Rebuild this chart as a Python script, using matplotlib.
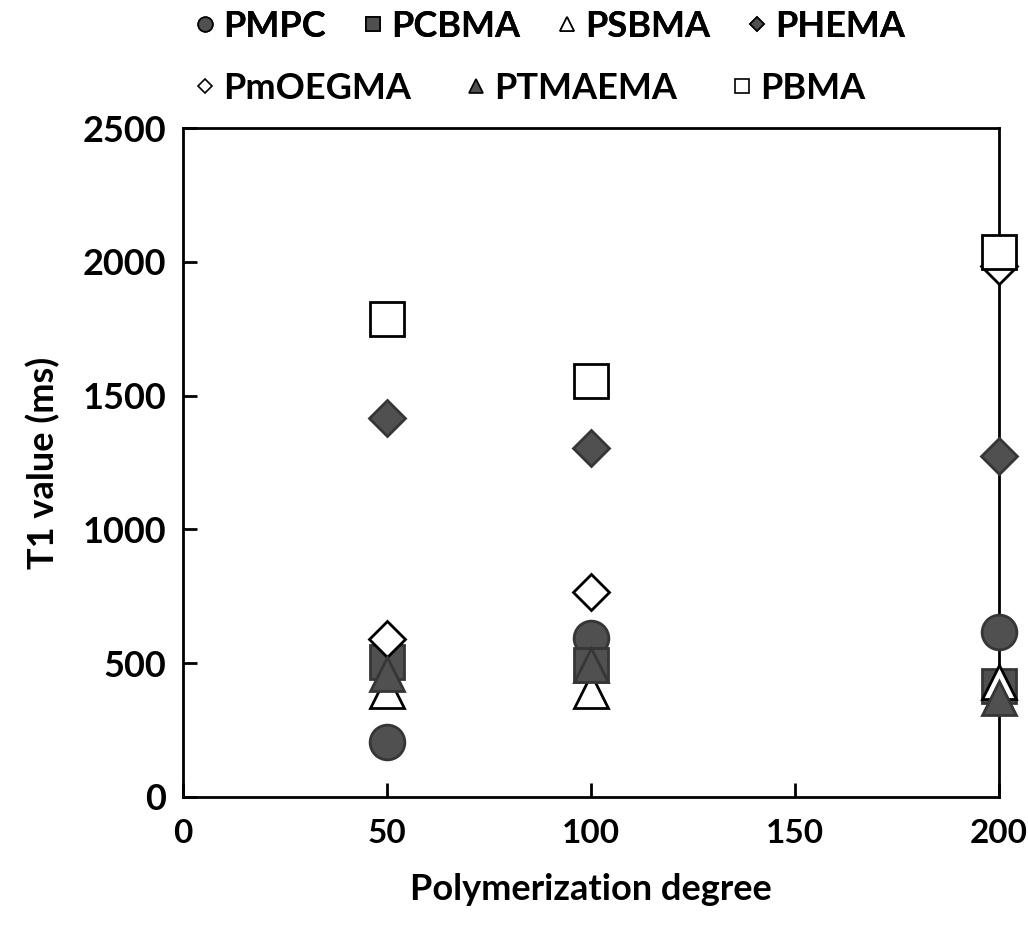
import matplotlib
matplotlib.use("Agg")
import matplotlib.pyplot as plt
from matplotlib.lines import Line2D

plt.rcParams['font.family'] = ['Lato', 'DejaVu Sans']
plt.rcParams['font.weight'] = 'bold'

# Data
degree = [50, 100, 200]
pmpc = [205, 595, 615]
pcbma = [505, 495, 415]
psbma = [395, 395, 430]
phema = [1415, 1305, 1275]
pmoegma = [590, 765, 1985]
ptmaema = [460, 495, 370]
pbma = [1785, 1555, 2035]

dark = '#505050'
dark_edge = '#363636'
series = [
    ('PMPC', pmpc, 'o', dark, 25),
    ('PCBMA', pcbma, 's', dark, 24),
    ('PSBMA', psbma, '^', 'white', 25),
    ('PHEMA', phema, 'D', dark, 18),
    ('PmOEGMA', pmoegma, 'D', 'white', 18),
    ('PTMAEMA', ptmaema, '^', dark, 25),
    ('PBMA', pbma, 's', 'white', 24),
]

fig = plt.figure(figsize=(10.28, 9.33), dpi=100)
ax = fig.add_axes([0.178, 0.1458, 0.794, 0.717])

handles = {}
for name, vals, mk, fc, ms in series:
    ec = 'black' if fc == 'white' else dark_edge
    ax.plot(degree, vals, linestyle='none', marker=mk, markersize=ms,
            markerfacecolor=fc, markeredgecolor=ec, markeredgewidth=2,
            clip_on=False, zorder=3)
    handles[name] = Line2D([], [], linestyle='none', marker=mk,
                           markersize=ms * 0.42, markerfacecolor=fc,
                           markeredgecolor='black', markeredgewidth=1.2)

ax.set_xlim(0, 200)
ax.set_ylim(0, 2500)
ax.set_xticks([0, 50, 100, 150, 200])
ax.set_yticks([0, 500, 1000, 1500, 2000, 2500])
ax.tick_params(direction='in', length=10, width=2, labelsize=26)
ax.tick_params(axis='y', pad=12)
ax.tick_params(axis='x', pad=16, labelsize=24)
for sp in ax.spines.values():
    sp.set_linewidth(2)

ax.set_xlabel('Polymerization degree', fontsize=26, fontweight='bold', labelpad=18)
ax.set_ylabel('T1 value (ms)', fontsize=26, fontweight='bold', labelpad=16)

row1 = ['PMPC', 'PCBMA', 'PSBMA', 'PHEMA']
row2 = ['PmOEGMA', 'PTMAEMA', 'PBMA']
leg1 = fig.legend([handles[n] for n in row1], row1, ncol=4, frameon=False,
                  loc='center', bbox_to_anchor=(0.535, 0.972), fontsize=26,
                  handletextpad=0.2, columnspacing=1.0, handlelength=0.6)
leg2 = fig.legend([handles[n] for n in row2], row2, ncol=3, frameon=False,
                  loc='center', bbox_to_anchor=(0.515, 0.905), fontsize=26,
                  handletextpad=0.2, columnspacing=1.5, handlelength=0.6)
fig.add_artist(leg1)

fig.savefig('out.png', dpi=100)
